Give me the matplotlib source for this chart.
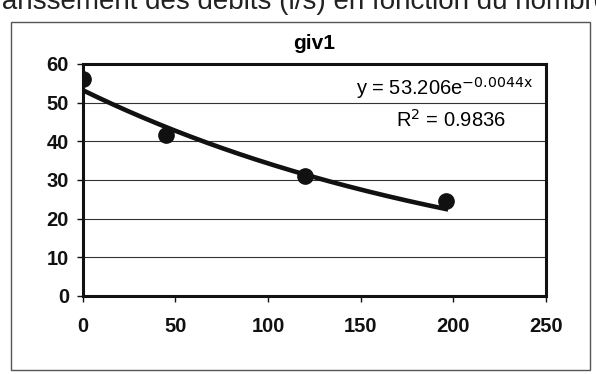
import numpy as np
import matplotlib
matplotlib.use('Agg')
import matplotlib.pyplot as plt
from matplotlib.patches import Rectangle

plt.rcParams['font.family'] = ['Liberation Sans', 'DejaVu Sans']

# donnees
x_pts = [0, 45, 120, 196]
y_pts = [56, 41.5, 31, 24.5]

# courbe de tendance exponentielle (parametres affiches)
a_fit = 53.206
b_fit = -0.0044
r2 = 0.9836

x_ticks = [0, 50, 100, 150, 200, 250]
y_ticks = [0, 10, 20, 30, 40, 50, 60]

fig = plt.figure(figsize=(5.96, 3.74), dpi=100)

# cadre exterieur du graphique
fig.patches.append(Rectangle((0.018, 0.01), 0.972, 0.93, transform=fig.transFigure,
                             fill=False, edgecolor='#555555', lw=1.0))

# titre coupe en haut de la page scannee
fig.text(-0.02, 0.995, 'Tarissement des débits (l/s) en fonction du nombre',
         fontsize=20, ha='left', va='center', color='#222222')

ax = fig.add_axes([0.139, 0.209, 0.777, 0.62])

plot_x = np.linspace(0, max(x_pts), 200)
ax.plot(plot_x, a_fit*np.exp(b_fit*plot_x), '-', color='#111111', lw=3.3, zorder=3)
ax.plot(x_pts, y_pts, 'o', color='#111111', ms=11, zorder=4)

ax.set_xlim(0, 250)
ax.set_ylim(0, 60)
ax.set_xticks(x_ticks)
ax.set_yticks(y_ticks)
ax.yaxis.grid(True, color='#333333', lw=0.8)
ax.set_axisbelow(True)
for s in ax.spines.values():
    s.set_linewidth(2.2)
    s.set_color('#111111')
ax.tick_params(axis='both', labelsize=14.5, colors='#111111', width=1, length=4)
ax.tick_params(axis='x', pad=11)
ax.tick_params(axis='y', pad=6)
for lab in ax.get_xticklabels() + ax.get_yticklabels():
    lab.set_fontweight('bold')

ax.set_title('giv1', fontsize=15, fontweight='bold', pad=11)

ax.text(0.972, 0.866, r'y = 53.206e$^{\mathrm{-0.0044x}}$', transform=ax.transAxes,
        ha='right', va='baseline', fontsize=14.5, color='#000000')
ax.text(0.795, 0.728, 'R$^{\\mathrm{2}}$ = %.4f' % r2, transform=ax.transAxes,
        ha='center', va='baseline', fontsize=14.5, color='#000000')

plt.savefig('out.png', dpi=100)
